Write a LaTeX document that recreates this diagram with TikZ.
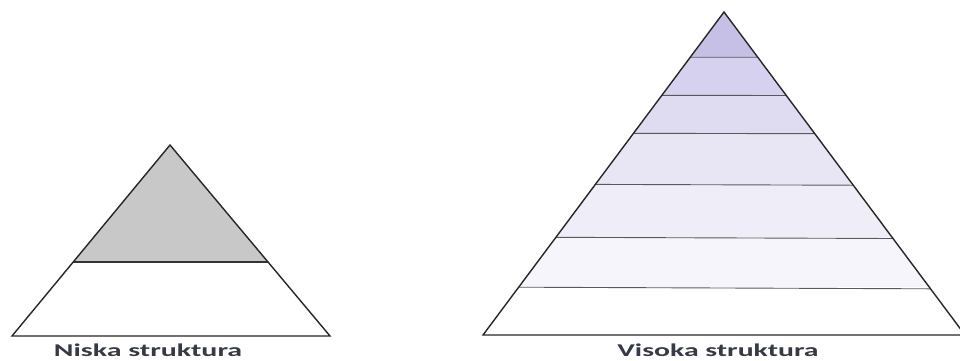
\documentclass[tikz,border=0pt]{standalone}
\usepackage{fontspec}
\setmainfont{Carlito}
\usetikzlibrary{calc}
\definecolor{bandA}{HTML}{C6BFE6}
\definecolor{bandB}{HTML}{D6D1EE}
\definecolor{bandC}{HTML}{DFDBF1}
\definecolor{bandD}{HTML}{E8E6F5}
\definecolor{bandE}{HTML}{EFEDF8}
\definecolor{bandF}{HTML}{F6F5FB}
\definecolor{greyfill}{HTML}{C8C8C8}
\definecolor{labelcol}{HTML}{353A46}
\tikzset{
  outline/.style={draw=black!85, line width=1.4pt, line join=miter},
  divider/.style={draw=black!65, line width=0.9pt},
  caption/.style={anchor=base, inner sep=0pt, text=labelcol, font=\fontsize{18}{18}\selectfont\bfseries}
}
\begin{document}
\begin{tikzpicture}[x=1pt,y=-1pt]
\useasboundingbox (0,0) rectangle (960,360);
\clip (0,0) rectangle (960,360);
% small pyramid
\coordinate (sA) at (170,145);
\coordinate (sL) at (12,336);
\coordinate (sR) at (330,336);
\begin{scope}
  \clip (sA) -- (sL) -- (sR) -- cycle;
  \fill[greyfill] (0,145) rectangle (340,262);
  \draw[divider, draw=black!80, line width=1.1pt] (0,262) -- (340,262);
\end{scope}
\draw[outline] (sA) -- (sL) -- (sR) -- cycle;
\node[caption] (lowlabel) at (148,356.5) {\scalebox{1.66}[1]{Niska struktura}};
% tall pyramid
\coordinate (bA) at (724,12);
\coordinate (bL) at (483,335);
\coordinate (bR) at (965,335);
\begin{scope}
  \clip (bA) -- (bL) -- (bR) -- cycle;
  \fill[bandA] (470,0) rectangle (980,57);
  \fill[bandB] (470,57) rectangle (980,95);
  \fill[bandC] (470,95) rectangle (980,133);
  \fill[bandD] (470,133) rectangle (980,184);
  \fill[bandE] (470,184) rectangle (980,237);
  \fill[bandF] (470,237) rectangle (980,287);
  \foreach \yy/\dy in {57/0.5,95/0.8,133/1,184/1.6,237/1.8,287/2}{
    \draw[divider] (470,\yy) -- (980,\yy+\dy);
  }
\end{scope}
\draw[outline] (bA) -- (bL) -- (bR) -- cycle;
\node[caption] (highlabel) at (718,356.5) {\scalebox{1.65}[1]{Visoka struktura}};
\end{tikzpicture}
\end{document}
